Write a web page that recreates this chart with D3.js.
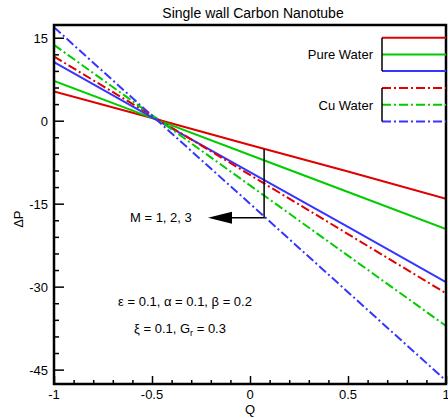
<!DOCTYPE html>
<html>
<head>
<meta charset="utf-8">
<script src="https://cdn.jsdelivr.net/npm/d3@7"></script>
<style>
  body { margin: 0; background: #fff; }
  text { font-family: "Liberation Sans", Arial, sans-serif; fill: #000; }
</style>
</head>
<body>
<svg id="chart" width="448" height="418"></svg>
<script>
// flow rate Q
const qValues = [-1, -0.5, 0, 0.5, 1];

// pressure rise for M = 1, 2, 3
const pureM1 = [5.3, 0.5, -4.4, -9.2, -14.1];
const pureM2 = [7.2, 0.5, -6.2, -12.9, -19.6];
const pureM3 = [10.6, 0.6, -9.3, -19.2, -29.2];
const cuM1 = [11.6, 0.9, -9.8, -20.5, -31.2];
const cuM2 = [13.7, 1.0, -11.7, -24.4, -37.1];
const cuM3 = [16.9, 0.9, -15.0, -31.0, -47.0];

const seriesNames = ["pureM1", "pureM2", "pureM3", "cuM1", "cuM2", "cuM3"];
const colors = ["#e00000", "#00cc00", "#3535ff", "#e00000", "#00cc00", "#3535ff"];

const xMajor = [-1, -0.5, 0, 0.5, 1];
const yMajor = [15, 0, -15, -30, -45];

const series = [pureM1, pureM2, pureM3, cuM1, cuM2, cuM3].map((vals, i) => ({
    name: seriesNames[i],
    color: colors[i],
    dashed: i >= 3,
    points: vals.map((v, j) => [qValues[j], v])
}));

const svg = d3.select("#chart");
const margin = {left: 54, right: 2, top: 25, bottom: 34};
const width = 448 - margin.left - margin.right;
const height = 418 - margin.top - margin.bottom;

const x = d3.scaleLinear().domain([-1, 1]).range([margin.left, margin.left + width]);
const y = d3.scaleLinear().domain([-47.6, 17.3]).range([margin.top + height, margin.top]);

const dashStyle = "9,3,2,3";

// clip for the data lines
svg.append("clipPath").attr("id", "plot-clip")
    .append("rect")
    .attr("x", margin.left).attr("y", margin.top)
    .attr("width", width).attr("height", height);

let line = d3.line().x(d => x(d[0])).y(d => y(d[1]));

svg.append("g").attr("clip-path", "url(#plot-clip)")
    .selectAll("path")
    .data(series)
    .join("path")
    .attr("d", d => line(d.points))
    .attr("fill", "none")
    .attr("stroke", d => d.color)
    .attr("stroke-width", 2)
    .attr("stroke-dasharray", d => d.dashed ? dashStyle : null);

// axes: ticks point inwards
let yAxis = d3.axisRight(y).tickValues(yMajor).tickSize(10).tickFormat("");
let yMinor = d3.axisRight(y).tickValues(d3.range(-45, 17, 3).filter(v => v % 15 !== 0)).tickSize(5).tickFormat("");
let xAxis = d3.axisTop(x).tickValues(xMajor).tickSize(8).tickFormat("");
let xMinor = d3.axisTop(x).tickValues(d3.range(-9, 10).map(v => v / 10).filter(v => Math.abs(v * 2 % 1) > 0.01)).tickSize(4).tickFormat("");

function styleAxis(g) {
    g.select(".domain").remove();
    g.selectAll("line").attr("stroke", "#000").attr("stroke-width", 1.5);
}

svg.append("g").attr("transform", `translate(${margin.left},0)`).call(yAxis).call(styleAxis);
svg.append("g").attr("transform", `translate(${margin.left},0)`).call(yMinor).call(styleAxis);
svg.append("g").attr("transform", `translate(0,${margin.top + height})`).call(xAxis).call(styleAxis);
svg.append("g").attr("transform", `translate(0,${margin.top + height})`).call(xMinor).call(styleAxis);

// tick labels
svg.append("g").selectAll("text")
    .data(yMajor)
    .join("text")
    .attr("x", margin.left - 6)
    .attr("y", d => y(d) + 5)
    .attr("text-anchor", "end")
    .attr("font-size", 13)
    .text(d => d);

svg.append("g").selectAll("text")
    .data(xMajor)
    .join("text")
    .attr("x", d => x(d))
    .attr("y", margin.top + height + 15)
    .attr("text-anchor", "middle")
    .attr("font-size", 13)
    .text(d => d);

// frame
svg.append("rect")
    .attr("x", margin.left).attr("y", margin.top)
    .attr("width", width).attr("height", height)
    .attr("fill", "none").attr("stroke", "#000").attr("stroke-width", 2.5);

// titles
svg.append("text").attr("x", 253).attr("y", 18).attr("text-anchor", "middle")
    .attr("font-size", 14).text("Single wall Carbon Nanotube");
svg.append("text").attr("x", x(0)).attr("y", 414).attr("text-anchor", "middle")
    .attr("font-size", 13).text("Q");
svg.append("text").attr("transform", `translate(23,${y(-17.8)}) rotate(-90)`)
    .attr("text-anchor", "middle").attr("font-size", 13).text("ΔP");

// legend
const legendGroups = [
    {label: "Pure Water", items: series.slice(0, 3), top: 37.7},
    {label: "Cu Water", items: series.slice(3), top: 88}
];
const legX = 382, legEnd = margin.left + width, legGap = 16.7;

legendGroups.forEach(grp => {
    let g = svg.append("g");
    g.selectAll("line.leg")
        .data(grp.items)
        .join("line")
        .attr("x1", legX).attr("x2", legEnd)
        .attr("y1", (d, i) => grp.top + i * legGap)
        .attr("y2", (d, i) => grp.top + i * legGap)
        .attr("stroke", d => d.color)
        .attr("stroke-width", 2)
        .attr("stroke-dasharray", d => d.dashed ? dashStyle : null);
    g.append("line")
        .attr("x1", legX).attr("x2", legX)
        .attr("y1", grp.top).attr("y2", grp.top + 2 * legGap)
        .attr("stroke", "#000").attr("stroke-width", 1.5);
    g.append("text")
        .attr("x", legX - 9).attr("y", grp.top + legGap + 5)
        .attr("text-anchor", "end").attr("font-size", 13)
        .text(grp.label);
});

// M bracket and arrow
const qM = 0.072;
const topVal = pureM1[0] + (pureM1[4] - pureM1[0]) * (qM + 1) / 2;
const botVal = cuM3[0] + (cuM3[4] - cuM3[0]) * (qM + 1) / 2;
svg.append("path")
    .attr("d", `M${x(qM)},${y(topVal)} V${y(botVal) + 1} H${230}`)
    .attr("fill", "none").attr("stroke", "#000").attr("stroke-width", 1.5);
svg.append("path")
    .attr("d", `M208,${y(botVal) + 1} L232,${y(botVal) - 5} L232,${y(botVal) + 7} Z`)
    .attr("fill", "#000");
svg.append("text").attr("x", 130).attr("y", y(botVal) + 5.5)
    .attr("font-size", 13).text("M = 1, 2, 3");

// parameters
svg.append("text").attr("x", 185).attr("y", 306).attr("text-anchor", "middle")
    .attr("font-size", 13).text("ε = 0.1, α = 0.1, β = 0.2");
let t2 = svg.append("text").attr("x", 180).attr("y", 333).attr("text-anchor", "middle")
    .attr("font-size", 13);
t2.append("tspan").text("ξ = 0.1, G");
t2.append("tspan").attr("font-size", 9).attr("dy", 3).text("r");
t2.append("tspan").attr("dy", -3).text(" = 0.3");
</script>
</body>
</html>
